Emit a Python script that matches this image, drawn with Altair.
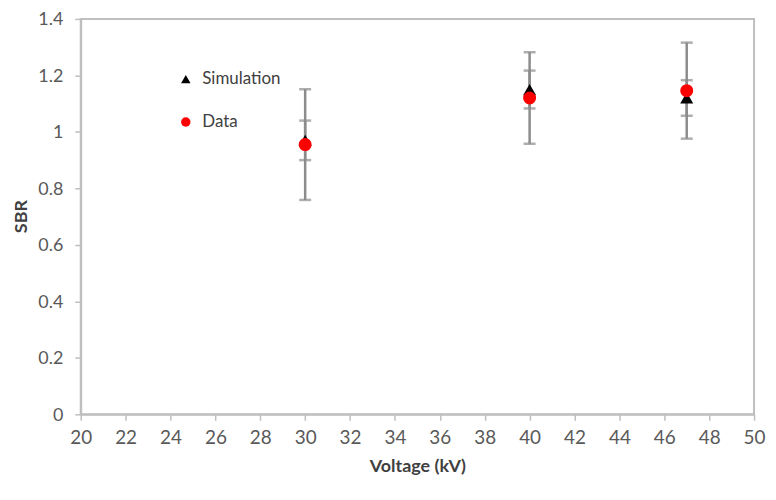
import altair as alt
import pandas as pd

voltage = [30, 40, 47]
sim_values = [0.97, 1.15, 1.12]
sim_errors = [0.07, 0.067, 0.063]
data_values = [0.955, 1.12, 1.146]
data_errors = [0.196, 0.162, 0.17]
series_names = ["Simulation", "Data"]
x_ticks = list(range(20, 51, 2))
y_ticks = [0, 0.2, 0.4, 0.6, 0.8, 1, 1.2, 1.4]

rows = []
for name, vals, errs in [("Simulation", sim_values, sim_errors), ("Data", data_values, data_errors)]:
    for v, val, e in zip(voltage, vals, errs):
        rows.append({"series": name, "voltage": v, "sbr": val, "low": val - e, "high": val + e})
df = pd.DataFrame(rows)

xscale = alt.Scale(domain=[20, 50], nice=False, zero=False)
yscale = alt.Scale(domain=[0, 1.4], nice=False)
xs = alt.X("voltage:Q", scale=xscale,
           axis=alt.Axis(values=x_ticks, title="Voltage (kV)", grid=False))
ys = alt.Y("sbr:Q", scale=yscale,
           axis=alt.Axis(values=y_ticks, title="SBR", grid=False, format="~g"))

base = alt.Chart(df)
bar_color = "#8c8c8c"

rules = base.mark_rule(color=bar_color, strokeWidth=2.5).encode(
    x=alt.X("voltage:Q", scale=xscale), y=alt.Y("low:Q", scale=yscale), y2="high:Q")
caps_top = base.mark_tick(color=bar_color, orient="horizontal", size=12, thickness=2.5).encode(
    x=alt.X("voltage:Q", scale=xscale), y=alt.Y("high:Q", scale=yscale))
caps_bot = base.mark_tick(color=bar_color, orient="horizontal", size=12, thickness=2.5).encode(
    x=alt.X("voltage:Q", scale=xscale), y=alt.Y("low:Q", scale=yscale))

points = base.mark_point(filled=True, opacity=1, size=170).encode(
    x=xs, y=ys,
    color=alt.Color("series:N", scale=alt.Scale(domain=series_names, range=["#000000", "#ff0000"]),
                    legend=alt.Legend(orient="none", legendX=97, legendY=52, title=None,
                                      labelFontSize=17, labelColor="#404040", labelFont="Lato",
                                      symbolSize=90, rowPadding=25, labelOffset=8, padding=0)),
    shape=alt.Shape("series:N", scale=alt.Scale(domain=series_names, range=["triangle-up", "circle"])),
    order=alt.Order("ord:Q"),
).transform_calculate(ord="datum.series == 'Data' ? 1 : 0")

chart = alt.layer(rules, caps_top, caps_bot, points).properties(
    width=676, height=397,
    autosize=alt.AutoSizeParams(type="none"),
    padding={"left": 73, "top": 10, "right": 14, "bottom": 70},
).configure_view(
    stroke="#bfbfbf", strokeWidth=2
).configure_axis(
    labelFont="Lato", labelFontSize=19, labelColor="#595959", labelFlush=False,
    titleFont="Lato", titleFontSize=18, titleFontWeight="bold", titleColor="#404040",
    domainColor="#bfbfbf", domainWidth=2, tickColor="#bfbfbf", tickSize=6, tickWidth=1.5,
).configure_axisY(labelPadding=12, labelFontSize=18, labelOffset=1, titleX=-50, titleY=198
).configure_axisX(labelPadding=8, titlePadding=10)

chart.save("out.html", embed_options={"renderer": "svg", "actions": False})
